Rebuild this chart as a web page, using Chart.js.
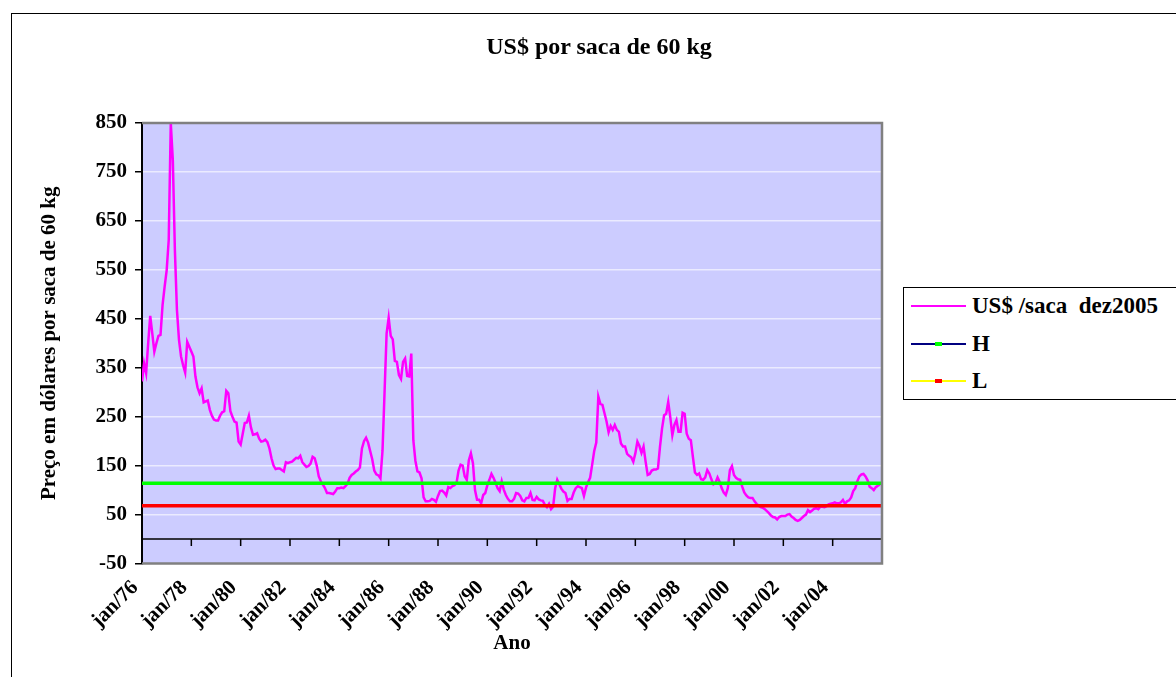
<!DOCTYPE html>
<html>
<head>
<meta charset="utf-8">
<script src="https://cdn.jsdelivr.net/npm/chart.js@4.4.0/dist/chart.umd.min.js"></script>
<style>
  body { margin: 0; width: 1176px; height: 677px; overflow: hidden; position: relative; background: #fff;
         font-family: "Liberation Serif", "Times New Roman", serif; font-weight: bold; color: #000; }
  #frame { position: absolute; left: 11px; top: 13px; width: 1200px; height: 700px; border: 1px solid #000; }
  #chart { position: absolute; left: 0; top: 0; }
  #title { position: absolute; left: 0; width: 1198px; top: 33px; text-align: center; font-size: 24px; }
  #legend { position: absolute; left: 903px; top: 287px; width: 300px; height: 111px; border: 1px solid #000; background: #fff; }
  .item { position: absolute; left: 7px; height: 30px; font-size: 23px; line-height: 30px; white-space: pre; }
  .swatch { position: absolute; left: 0; top: 14px; width: 55px; height: 2px; }
  .mark { position: absolute; left: 24px; top: -1px; width: 7px; height: 4px; }
  .txt { position: absolute; left: 61px; top: 0; }
</style>
</head>
<body>
<div id="frame"></div>
<canvas id="chart" width="1176" height="677"></canvas>
<div id="title">US$ por saca de 60 kg</div>
<div id="legend"></div>
<script>
// preço mensal em US$ por saca (valores de dez/2005), jan/76 .. dez/05
const priceUSD = [
  322, 359, 339, 400, 456, 420, 383, 400, 415, 417, 478, 515, // 1976
  549, 611, 850, 774, 590, 468, 407, 373, 355, 340, 403, 393, // 1977
  383, 373, 332, 310, 298, 308, 279, 281, 283, 264, 252, 244, // 1978
  242, 242, 252, 259, 261, 303, 298, 261, 250, 240, 238, 199, // 1979
  193, 215, 237, 238, 252, 228, 213, 214, 216, 205, 199, 200, // 1980
  203, 198, 185, 165, 150, 143, 144, 144, 141, 138, 157, 155, // 1981
  157, 158, 162, 166, 165, 170, 157, 152, 147, 149, 154, 168, // 1982
  165, 150, 128, 118, 111, 104, 94, 94, 93, 92, 97, 104,      // 1983
  104, 105, 104, 108, 113, 125, 131, 134, 138, 141, 146, 185, // 1984
  200, 207, 197, 180, 163, 140, 132, 130, 124, 180, 300, 420, // 1985
  452, 415, 408, 364, 362, 335, 327, 362, 369, 333, 332, 379, // 1986
  202, 160, 138, 136, 124, 85, 77, 77, 78, 82, 80, 76,        // 1987
  88, 98, 99, 95, 89, 106, 104, 108, 110, 114, 140, 152,      // 1988
  150, 128, 121, 161, 175, 155, 100, 80, 80, 73, 90, 94,      // 1989
  110, 121, 133, 125, 115, 104, 98, 118, 101, 90, 82, 77,     // 1990
  77, 82, 94, 93, 88, 79, 77, 84, 84, 94, 80, 79,             // 1991
  86, 81, 79, 78, 70, 65, 72, 61, 66, 104, 121, 112,          // 1992
  103, 97, 94, 78, 82, 82, 95, 104, 108, 106, 104, 88,        // 1993
  105, 116, 125, 152, 180, 197, 291, 276, 274, 257, 240, 218, // 1994
  231, 223, 233, 223, 219, 195, 189, 189, 174, 170, 167, 158, // 1995
  175, 199, 190, 176, 189, 158, 131, 133, 140, 142, 142, 144, // 1996
  189, 226, 253, 256, 280, 249, 212, 233, 243, 219, 219, 258, // 1997
  256, 215, 205, 202, 168, 136, 131, 134, 122, 121, 126, 141, // 1998
  134, 122, 112, 115, 126, 117, 104, 95, 90, 104, 141, 149,   // 1999
  131, 125, 122, 121, 107, 95, 89, 85, 84, 84, 77, 72,        // 2000
  68, 65, 64, 61, 57, 53, 48, 45, 44, 40, 45, 47,             // 2001
  47, 47, 50, 51, 46, 43, 39, 37, 39, 43, 47, 50,             // 2002
  59, 55, 58, 62, 63, 61, 66, 66, 65, 67, 71, 72,             // 2003
  73, 75, 73, 73, 75, 80, 72, 77, 79, 85, 98, 104,            // 2004
  118, 128, 132, 133, 128, 120, 107, 104, 100, 106, 109, 111  // 2005
];

// linhas de referencia H e L (inicio e fim do periodo)
const levelMonths = [0, 360];
const highLevel = [114, 114];
const lowLevel = [68, 68];

const seriesNames = ['US$ /saca  dez2005', 'H', 'L'];
const tickLabels = ['jan/76', 'jan/78', 'jan/80', 'jan/82', 'jan/84', 'jan/86', 'jan/88', 'jan/90',
                    'jan/92', 'jan/94', 'jan/96', 'jan/98', 'jan/00', 'jan/02', 'jan/04'];

const font = { family: '"Liberation Serif", "Times New Roman", serif', size: 21, weight: 'bold' };

// fundo lilas da area de plotagem
const plotBg = {
  id: 'plotBg',
  beforeDraw(chart) {
    const { ctx, chartArea: a } = chart;
    ctx.save();
    ctx.fillStyle = '#CCCCFF';
    ctx.fillRect(a.left, a.top, a.right - a.left, a.bottom - a.top);
    ctx.restore();
  },
  afterDraw(chart) {
    const { ctx, chartArea: a } = chart;
    ctx.save();
    ctx.strokeStyle = '#808080';
    ctx.lineWidth = 2.5;
    ctx.beginPath();
    ctx.moveTo(a.left, a.top);
    ctx.lineTo(a.right, a.top);
    ctx.lineTo(a.right, a.bottom);
    ctx.lineTo(a.left, a.bottom);
    ctx.stroke();
    ctx.restore();
  }
};

// eixo das categorias cruzando em zero, com marcas a cada 2 anos
const zeroAxis = {
  id: 'zeroAxis',
  beforeDatasetsDraw(chart) {
    const { ctx, chartArea: a, scales } = chart;
    const y0 = scales.y.getPixelForValue(0);
    ctx.save();
    ctx.strokeStyle = '#000';
    ctx.lineWidth = 1.5;
    ctx.beginPath();
    ctx.moveTo(a.left, y0);
    ctx.lineTo(a.right, y0);
    scales.x.ticks.forEach(t => {
      const x = scales.x.getPixelForValue(t.value);
      ctx.moveTo(x, y0);
      ctx.lineTo(x, y0 + 7);
    });
    ctx.stroke();
    ctx.restore();
  }
};

const chart = new Chart(document.getElementById('chart'), {
  type: 'line',
  data: {
    datasets: [
      {
        label: seriesNames[0],
        data: priceUSD.map((v, i) => ({ x: i, y: v })),
        borderColor: '#FF00FF', borderWidth: 2.5, pointRadius: 0, order: 2,
        legendLine: '#FF00FF', legendMark: null
      },
      {
        label: seriesNames[1],
        data: highLevel.map((v, i) => ({ x: levelMonths[i], y: v })),
        borderColor: '#00FF00', borderWidth: 3.5, pointRadius: 0, order: 1,
        legendLine: '#000080', legendMark: '#00FF00'
      },
      {
        label: seriesNames[2],
        data: lowLevel.map((v, i) => ({ x: levelMonths[i], y: v })),
        borderColor: '#FF0000', borderWidth: 3.5, pointRadius: 0, order: 1,
        legendLine: '#FFFF00', legendMark: '#FF0000'
      }
    ]
  },
  options: {
    responsive: false,
    animation: false,
    layout: { padding: { left: 0, top: 123, right: 294, bottom: 0 } },
    plugins: { legend: { display: false }, tooltip: { enabled: false } },
    scales: {
      x: {
        type: 'linear', min: 0, max: 360,
        afterFit(s) { s.height = 113.5; },
        grid: { display: false, drawTicks: false },
        border: { display: false },
        ticks: {
          stepSize: 24, autoSkip: false, minRotation: 45, maxRotation: 45, padding: 12, labelOffset: -7,
          font, color: '#000',
          callback: v => tickLabels[v / 24] || ''
        },
        title: { display: true, text: 'Ano', font, color: '#000', padding: { top: 0, bottom: 21 } }
      },
      y: {
        min: -50, max: 850,
        afterFit(s) { s.width = 142; },
        ticks: { stepSize: 100, font, color: '#000', padding: 8 },
        grid: { color: 'rgba(255,255,255,0.6)', lineWidth: 1.5, tickColor: '#000', tickLength: 7, tickWidth: 1.5 },
        border: { color: '#000', width: 2 },
        title: { display: true, text: 'Preço em dólares por saca de 60 kg', font, color: '#000', padding: { top: 37 } }
      }
    }
  },
  plugins: [plotBg, zeroAxis]
});

// legenda no estilo do Excel
const legend = document.getElementById('legend');
const rowTops = [3, 41, 78];
chart.data.datasets.forEach((ds, i) => {
  const item = document.createElement('div');
  item.className = 'item';
  item.style.top = rowTops[i] + 'px';
  const sw = document.createElement('div');
  sw.className = 'swatch';
  sw.style.background = ds.legendLine;
  if (ds.legendMark) {
    const mk = document.createElement('div');
    mk.className = 'mark';
    mk.style.background = ds.legendMark;
    sw.appendChild(mk);
  }
  const txt = document.createElement('span');
  txt.className = 'txt';
  txt.textContent = ds.label;
  item.appendChild(sw);
  item.appendChild(txt);
  legend.appendChild(item);
});
</script>
</body>
</html>
